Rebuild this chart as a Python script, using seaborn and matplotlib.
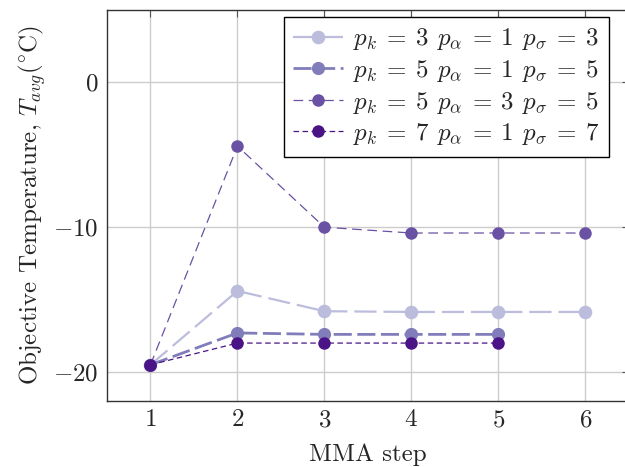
import matplotlib
matplotlib.use("Agg")
import matplotlib.pyplot as plt
import seaborn as sns
import pandas as pd

steps_long = [1, 2, 3, 4, 5, 6]
steps_short = [1, 2, 3, 4, 5]
s1 = [-19.5, -14.4, -15.8, -15.85, -15.85, -15.85]
s2 = [-19.5, -17.3, -17.4, -17.4, -17.4]
s3 = [-19.5, -4.4, -10.0, -10.4, -10.4, -10.4]
s4 = [-19.5, -18.0, -18.0, -18.0, -18.0]
labels = [r"$p_k\:=\:3\;\,p_\alpha\:=\:1\;\,p_\sigma\:=\:3$",
          r"$p_k\:=\:5\;\,p_\alpha\:=\:1\;\,p_\sigma\:=\:5$",
          r"$p_k\:=\:5\;\,p_\alpha\:=\:3\;\,p_\sigma\:=\:5$",
          r"$p_k\:=\:7\;\,p_\alpha\:=\:1\;\,p_\sigma\:=\:7$"]
colors = ["#bcbddc", "#807dba", "#6a51a3", "#4a1486"]

sns.set_style("white")
plt.rcParams["font.family"] = "serif"
plt.rcParams["font.serif"] = ["cmr10"]
plt.rcParams["mathtext.fontset"] = "cm"
plt.rcParams["axes.formatter.use_mathtext"] = True
plt.rcParams["lines.scale_dashes"] = False

fig = plt.figure(figsize=(6.25, 4.67), dpi=100)
ax = fig.add_axes([107/625, 66/467, 1 - 107/625 + 0.006, (401-10)/467])

series = [(steps_long, s1), (steps_short, s2), (steps_long, s3), (steps_short, s4)]
lws = [1.6, 2.0, 0.9, 0.9]
dashes = [(16, 5), (13, 4), (7, 4), (4, 2.5)]
msz = [9.8, 9.5, 9.0, 9.0]
for (x, y), lab, c, lw, d, m in zip(series, labels, colors, lws, dashes, msz):
    df = pd.DataFrame({"x": x, "y": y})
    sns.lineplot(data=df, x="x", y="y", ax=ax, color=c, linewidth=lw,
                 marker="o", markersize=m, markeredgewidth=0, label=lab,
                 dashes=False)
    ax.lines[-1].set_dashes(d)

ax.set_xlim(0.5, 6.5)
ax.set_ylim(-22, 5)
ax.set_xticks([1, 2, 3, 4, 5, 6])
ax.set_yticks([-20, -10, 0])
ax.grid(True, color="#cccccc", linewidth=1.0)
ax.set_axisbelow(True)
for sp in ax.spines.values():
    sp.set_color("#333333")
    sp.set_linewidth(1.0)
ax.tick_params(direction="in", top=True, right=True, length=5, width=0.8,
               color="#555555", labelsize=18, pad=6)
ax.set_xlabel("MMA step", fontsize=18, labelpad=9)
ax.set_ylabel(r"Objective Temperature, $T_{avg}(^{\circ}\mathrm{C})$", fontsize=18)

leg = ax.legend(loc="upper right", bbox_to_anchor=((609-107)/(629-107), (401-17)/391),
                borderaxespad=0, fontsize=18, frameon=True, fancybox=False,
                edgecolor="black", framealpha=1, handlelength=2.0,
                labelspacing=0.22, borderpad=0.38, handletextpad=0.4)
leg.get_frame().set_linewidth(1.0)

fig.savefig("out.png", dpi=100)
